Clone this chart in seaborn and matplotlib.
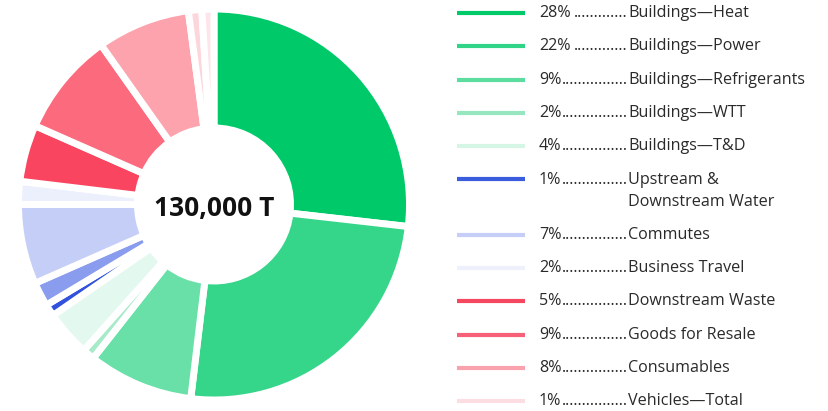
import matplotlib
matplotlib.use("Agg")
import matplotlib.pyplot as plt
import seaborn as sns

# donut slices, clockwise from 12 o'clock (share of total, %)
slice_names = ["Buildings—Heat", "Buildings—Power", "Buildings—Refrigerants",
               "Buildings—WTT", "Buildings—T&D", "Upstream & Downstream Water",
               "Other", "Commutes", "Business Travel", "Downstream Waste",
               "Goods for Resale", "Consumables", "Vehicles A", "Vehicles B"]
slice_values = [26.8, 25.1, 8.7, 1.0, 3.8, 1.0, 2.0, 6.6, 1.9, 4.7, 8.6, 7.7, 1.1, 1.0]
slice_colors = ["#00c96a", "#36d68a", "#68e0a7", "#a6eac8", "#e3f8ee", "#3152dc",
                "#8a9cee", "#c5cef7", "#eceffc", "#f9455f", "#fc6a7e", "#fca3ae",
                "#fdd6dc", "#fde6ea"]

total_label = "130,000 T"

# legend
legend_pct = [28, 22, 9, 2, 4, 1, 7, 2, 5, 9, 8, 1]
legend_names = ["Buildings—Heat", "Buildings—Power", "Buildings—Refrigerants",
                "Buildings—WTT", "Buildings—T&D", "Upstream &\nDownstream Water",
                "Commutes", "Business Travel", "Downstream Waste",
                "Goods for Resale", "Consumables", "Vehicles—Total"]
legend_colors = ["#00c96a", "#2fd486", "#5ddc9f", "#96e6bf", "#d5f5e5", "#3a5ddd",
                 "#c5cef7", "#eef0fc", "#f54760", "#f76177", "#f9a1ac", "#fcdde1"]

sns.set_theme(style="white")
plt.rcParams['font.family'] = ['Open Sans', 'DejaVu Sans']

W, H = 829, 411
fig = plt.figure(figsize=(W / 100, H / 100), dpi=100)

# donut
ax = fig.add_axes([14 / W, 6.5 / H, 400 / W, 400 / H])
ax.pie(slice_values, colors=slice_colors, startangle=90, counterclock=False,
       radius=0.9775,
       wedgeprops=dict(width=0.595, edgecolor="white", linewidth=5.0))
ax.set_xlim(-1, 1)
ax.set_ylim(-1, 1)
ax.set_aspect("equal")
ax.text(0, -0.02, total_label, ha="center", va="center", fontsize=19,
        fontweight="bold", color="#111111")

# legend drawn in pixel coordinates
lg = fig.add_axes([0, 0, 1, 1])
lg.set_xlim(0, W)
lg.set_ylim(H, 0)
lg.axis("off")
lg.patch.set_alpha(0)

txt_color = "#2a2a2a"
fs = 11.6
label_x = 628
fig.canvas.draw()
renderer = fig.canvas.get_renderer()
probe = lg.text(0, 0, "." * 20, fontsize=fs)
dot_w = probe.get_window_extent(renderer).width / 20
probe.remove()

y = 13
for i, (p, name, c) in enumerate(zip(legend_pct, legend_names, legend_colors)):
    lg.plot([457, 525], [y, y], color=c, lw=3.0, solid_capstyle="butt")
    t = lg.text(539, y, f"{p}%", fontsize=fs, color=txt_color, va="center")
    x_end = t.get_window_extent(renderer).x1 + 2
    n = max(round((label_x - x_end) / dot_w), 1)
    lg.text(label_x, y, "." * n, fontsize=fs, color=txt_color, va="center", ha="right")
    lines = name.split("\n")
    for k, line in enumerate(lines):
        lg.text(label_x, y + 22 * k, line, fontsize=fs, color=txt_color, va="center")
    y += 33.3 + 22 * (len(lines) - 1)

fig.savefig("out.png", dpi=100)
